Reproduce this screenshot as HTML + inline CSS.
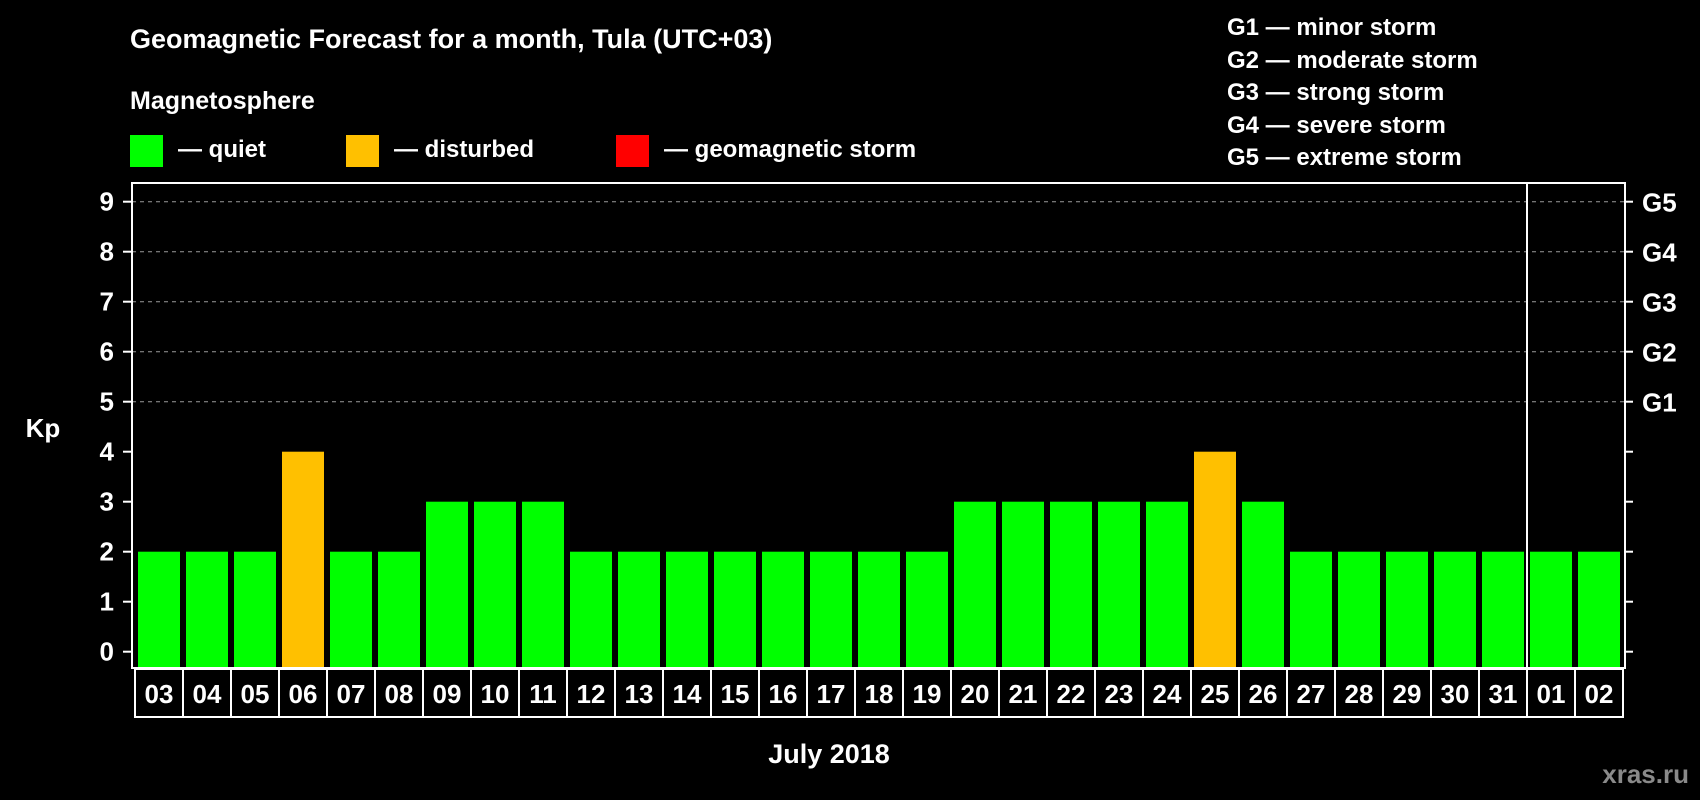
<!DOCTYPE html>
<html><head><meta charset="utf-8">
<style>
html,body{margin:0;padding:0;background:#000;}
svg{display:block;font-family:"Liberation Sans",Arial,sans-serif;font-weight:bold;}
</style></head>
<body>
<svg id="chart" width="1700" height="800" viewBox="0 0 1700 800">
<rect x="0" y="0" width="1700" height="800" fill="#000"/>
<text x="130" y="48" fill="#fff" font-size="27">Geomagnetic Forecast for a month, Tula (UTC+03)</text>
<text x="130" y="109" fill="#fff" font-size="25">Magnetosphere</text>
<g>
<rect x="130" y="135" width="33" height="32" fill="#00ff00"/>
<text x="178" y="157" fill="#fff" font-size="24">— quiet</text></g>
<g>
<rect x="346" y="135" width="33" height="32" fill="#ffc000"/>
<text x="394" y="157" fill="#fff" font-size="24">— disturbed</text></g>
<g>
<rect x="616" y="135" width="33" height="32" fill="#ff0000"/>
<text x="664" y="157" fill="#fff" font-size="24">— geomagnetic storm</text></g>
<g font-size="24" fill="#fff">
<text x="1227" y="35">G1 — minor storm</text>
<text x="1227" y="68">G2 — moderate storm</text>
<text x="1227" y="100">G3 — strong storm</text>
<text x="1227" y="133">G4 — severe storm</text>
<text x="1227" y="165">G5 — extreme storm</text>
</g>
<text x="43" y="437" fill="#fff" font-size="26" text-anchor="middle">Kp</text>
<text x="829" y="763" fill="#fff" font-size="27" text-anchor="middle">July 2018</text>
<text x="1689" y="783" fill="#8a8a8a" font-size="26" text-anchor="end">xras.ru</text>
<g id="plot"></g>
</svg>
<script>
const days = ["03","04","05","06","07","08","09","10","11","12","13","14","15","16","17","18","19","20","21","22","23","24","25","26","27","28","29","30","31","01","02"];
const kpValues = [2,2,2,4,2,2,3,3,3,2,2,2,2,2,2,2,2,3,3,3,3,3,4,3,2,2,2,2,2,2,2];
const yTicks = [0,1,2,3,4,5,6,7,8,9];
const gLabels = ["G1","G2","G3","G4","G5"];
const gLevels = [5,6,7,8,9];
const monthBreakIndex = 29;

const NS = "http://www.w3.org/2000/svg";
const plot = document.getElementById("plot");
const frameL = 132, frameR = 1625, frameT = 183, frameB = 668;
const y0 = 651.7, unit = 50;
function yScale(v){ return y0 - v*unit; }
function xScale(i){ return 138 + 48*i; }
const barW = 42;
function colorFor(v){ return v >= 5 ? "#ff0000" : (v >= 4 ? "#ffc000" : "#00ff00"); }
function mk(tag, attrs){ const e = document.createElementNS(NS, tag); for (const k in attrs) e.setAttribute(k, attrs[k]); plot.appendChild(e); return e; }

gLevels.forEach((lv, i) => {
  const l = mk("line", {x1: frameL, x2: frameR, y1: yScale(lv), y2: yScale(lv), stroke: "#9a9a9a", "stroke-width": 1, "stroke-dasharray": "4,4"});
  
  
  const t = mk("text", {x: 1642, y: yScale(lv) + 10, fill: "#fff", "font-size": 26});
  t.textContent = gLabels[i];
  
  
});

kpValues.forEach((v, i) => {
  const r = mk("rect", {x: xScale(i), y: yScale(v), width: barW, height: frameB - yScale(v), fill: colorFor(v)});
  
  
  const b = mk("rect", {x: xScale(i) - 3, y: 669, width: 48, height: 48, fill: "none", stroke: "#fff", "stroke-width": 2});
  
  
  const t = mk("text", {x: xScale(i) + barW/2, y: 703, fill: "#fff", "font-size": 26, "text-anchor": "middle"});
  t.textContent = days[i];
  
  
});

yTicks.forEach(v => {
  const tl = mk("line", {x1: 123, x2: frameL, y1: yScale(v), y2: yScale(v), stroke: "#fff", "stroke-width": 2});
  
  
  const tr = mk("line", {x1: frameR, x2: 1633, y1: yScale(v), y2: yScale(v), stroke: "#fff", "stroke-width": 2});
  
  
  const t = mk("text", {x: 114, y: yScale(v) + 9, fill: "#fff", "font-size": 26, "text-anchor": "end"});
  t.textContent = v;
  
  
});

const divX = xScale(monthBreakIndex) - 3;
const dv = mk("line", {x1: divX, x2: divX, y1: frameT, y2: frameB, stroke: "#fff", "stroke-width": 2});



const fr = mk("rect", {x: frameL, y: frameT, width: frameR - frameL, height: frameB - frameT, fill: "none", stroke: "#fff", "stroke-width": 2});


</script>
</body></html>
